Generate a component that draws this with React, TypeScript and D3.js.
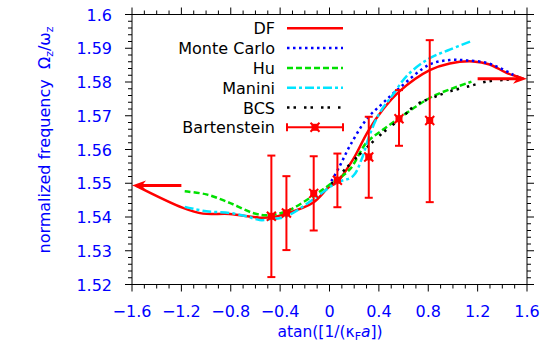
import React from "react";
import * as d3 from "d3";

// x = atan(1/(kF a)), y = normalized frequency
const dfX = [-1.57, -1.187, -1.025, -0.809, -0.566, -0.471, -0.349, -0.134, 0.002, 0.056, 0.19, 0.312, 0.434, 0.569, 0.812, 0.974, 1.163, 1.298, 1.434, 1.57];
const dfY = [1.5493, 1.5427, 1.541, 1.5409, 1.5398, 1.5399, 1.541, 1.5442, 1.5491, 1.5501, 1.557, 1.5654, 1.5719, 1.5773, 1.5835, 1.5855, 1.5861, 1.5852, 1.5827, 1.581];

const mcX = [0.015, 0.083, 0.164, 0.299, 0.434, 0.569, 0.812, 0.974, 1.109, 1.271, 1.379, 1.487, 1.568];
const mcY = [1.5506, 1.5551, 1.561, 1.5689, 1.5738, 1.5783, 1.5852, 1.5865, 1.5864, 1.5857, 1.5842, 1.5822, 1.5809];

const huX = [-1.173, -0.998, -0.809, -0.62, -0.511, -0.349, -0.134, 0.002, 0.164, 0.299, 0.434, 0.569, 0.704, 0.839, 0.974, 1.15];
const huY = [1.5476, 1.5467, 1.5442, 1.5412, 1.5405, 1.5417, 1.5462, 1.5496, 1.5541, 1.562, 1.5659, 1.5694, 1.5728, 1.5758, 1.5778, 1.5801];

const maniniX = [-1.173, -0.998, -0.809, -0.673, -0.566, -0.485, -0.349, -0.134, 0.056, 0.19, 0.259, 0.326, 0.407, 0.515, 0.623, 0.8, 0.974, 1.15];
const maniniY = [1.543, 1.5417, 1.5412, 1.5402, 1.5391, 1.5393, 1.5402, 1.5452, 1.5501, 1.5521, 1.557, 1.5644, 1.5709, 1.5763, 1.5817, 1.5868, 1.5896, 1.5921];

const bcsX = [0.015, 0.164, 0.299, 0.434, 0.569, 0.704, 0.839, 0.974, 1.136, 1.271, 1.434, 1.568];
const bcsY = [1.5498, 1.5556, 1.5605, 1.565, 1.5689, 1.5733, 1.5754, 1.5772, 1.5788, 1.5801, 1.5807, 1.5812];

const bartX = [-0.471, -0.349, -0.128, 0.064, 0.318, 0.563, 0.812];
const bartY = [1.5402, 1.5412, 1.547, 1.5509, 1.5578, 1.5691, 1.5686];
const bartLo = [1.5222, 1.5302, 1.536, 1.5429, 1.5457, 1.5611, 1.5444];
const bartHi = [1.5582, 1.5521, 1.558, 1.5588, 1.5697, 1.5776, 1.5924];

// asymptotic limits (BEC side at left, BCS side at right)
const arrowLeft = { from: -1.2, to: -1.6, y: 1.5493 };
const arrowRight = { from: 1.2, to: 1.6, y: 1.581 };

const xTicks = [-1.6, -1.2, -0.8, -0.4, 0, 0.4, 0.8, 1.2, 1.6];
const yTicks = [1.52, 1.53, 1.54, 1.55, 1.56, 1.57, 1.58, 1.59, 1.6];

const legendLabels = ["DF", "Monte Carlo", "Hu", "Manini", "BCS", "Bartenstein"];

const BLUE = "#0000ff";
const FONT = "DejaVu Sans, Liberation Sans, sans-serif";

const App = () => {
  const W = 556, H = 358;
  const left = 132, right = 527, top = 14.5, bottom = 284.5;

  const x = d3.scaleLinear().domain([-1.6, 1.6]).range([left, right]);
  const y = d3.scaleLinear().domain([1.52, 1.6]).range([bottom, top]);

  const line = d3
    .line<[number, number]>()
    .x((d) => x(d[0]))
    .y((d) => y(d[1]))
    .curve(d3.curveCatmullRom.alpha(0.5));

  const zip = (a: number[], b: number[]) => a.map((v, i) => [v, b[i]] as [number, number]);

  const series = [
    { name: "DF", pts: zip(dfX, dfY), color: "#ff0000", dash: "none", w: 2.5 },
    { name: "Monte Carlo", pts: zip(mcX, mcY), color: "#0000ff", dash: "2.5,3.5", w: 2.5 },
    { name: "Hu", pts: zip(huX, huY), color: "#00e000", dash: "6,3", w: 2.5 },
    { name: "Manini", pts: zip(maniniX, maniniY), color: "#00e5ff", dash: "9,3,3,3", w: 2.5 },
    { name: "BCS", pts: zip(bcsX, bcsY), color: "#000000", dash: "2.5,4,2.5,8", w: 2.5 },
  ];

  const xMinor = d3.range(-1.6, 1.6001, 0.1);
  const yMinor = d3.range(1.52, 1.6001, 0.002);

  const marker = (cx: number, cy: number, key: string) => (
    <g key={key}>
      <rect x={cx - 3.5} y={cy - 3.5} width={7} height={7} fill="#ff0000" />
      <path d={`M${cx - 4.5},${cy - 4.5}L${cx + 4.5},${cy + 4.5}M${cx - 4.5},${cy + 4.5}L${cx + 4.5},${cy - 4.5}`} stroke="#ff0000" strokeWidth={2} />
    </g>
  );

  const arrow = (a: { from: number; to: number; y: number }, key: string) => {
    const x0 = x(a.from), x1 = x(a.to), yy = y(a.y);
    const dir = Math.sign(x1 - x0);
    return (
      <g key={key}>
        <line x1={x0} y1={yy} x2={x1 - dir * 10} y2={yy} stroke="#ff0000" strokeWidth={3} />
        <path d={`M${x1},${yy}L${x1 - dir * 14},${yy - 5}L${x1 - dir * 10},${yy}L${x1 - dir * 14},${yy + 5}Z`} fill="#ff0000" />
      </g>
    );
  };

  const legX0 = 287, legX1 = 343, legTextX = 275, legY0 = 28.3, legDy = 19.8;

  return (
    <svg width={W} height={H} style={{ position: "absolute", left: 0, top: 0, background: "#fff" }}>
      {/* curves */}
      {series.map((s) => (
        <path key={s.name} d={line(s.pts) || ""} fill="none" stroke={s.color} strokeWidth={s.w} strokeDasharray={s.dash} />
      ))}

      {/* Bartenstein error bars */}
      {bartX.map((v, i) => (
        <g key={"eb" + i} stroke="#ff0000" strokeWidth={2}>
          <line x1={x(v)} x2={x(v)} y1={y(bartLo[i])} y2={y(bartHi[i])} />
          <line x1={x(v) - 4} x2={x(v) + 4} y1={y(bartLo[i])} y2={y(bartLo[i])} />
          <line x1={x(v) - 4} x2={x(v) + 4} y1={y(bartHi[i])} y2={y(bartHi[i])} />
        </g>
      ))}
      {bartX.map((v, i) => marker(x(v), y(bartY[i]), "m" + i))}

      {arrow(arrowLeft, "al")}
      {arrow(arrowRight, "ar")}

      {/* frame */}
      <rect x={left} y={top} width={right - left} height={bottom - top} fill="none" stroke="#000" strokeWidth={1} />
      {xMinor.map((v, i) => {
        const major = i % 4 === 0;
        const len = major ? 7 : 4;
        return (
          <g key={"xt" + i} stroke="#000">
            <line x1={x(v)} x2={x(v)} y1={bottom} y2={bottom + len} />
            <line x1={x(v)} x2={x(v)} y1={top} y2={top - len} />
          </g>
        );
      })}
      {yMinor.map((v, i) => {
        const major = i % 5 === 0;
        const len = major ? 7 : 4;
        return (
          <g key={"yt" + i} stroke="#000">
            <line x1={left} x2={left - len} y1={y(v)} y2={y(v)} />
            <line x1={right} x2={right + len} y1={y(v)} y2={y(v)} />
          </g>
        );
      })}

      {/* tick labels */}
      {xTicks.map((v) => (
        <text key={"xl" + v} x={x(v)} y={317} textAnchor="middle" fill={BLUE} fontFamily={FONT} fontSize={16}>
          {d3.format("")(v)}
        </text>
      ))}
      {yTicks.map((v) => (
        <text key={"yl" + v} x={112} y={y(v) + 6} textAnchor="end" fill={BLUE} fontFamily={FONT} fontSize={16}>
          {d3.format("")(v)}
        </text>
      ))}

      {/* axis titles */}
      <text x={330} y={337} textAnchor="middle" fill={BLUE} fontFamily={FONT} fontSize={15.5}>
        atan([1/(κ<tspan baselineShift="-25%" fontSize={11}>F</tspan>
        <tspan fontStyle="italic">a</tspan>])
      </text>
      <text transform="translate(50,140) rotate(-90)" textAnchor="middle" fill={BLUE} fontFamily={FONT} fontSize={16}>
        normalized frequency{"\u00a0\u00a0"}Ω<tspan baselineShift="-25%" fontSize={11}>z</tspan>/ω
        <tspan baselineShift="-25%" fontSize={11}>z</tspan>
      </text>

      {/* legend */}
      {legendLabels.map((lab, i) => {
        const ly = legY0 + i * legDy;
        return (
          <g key={"lg" + i}>
            <text x={legTextX} y={ly + 6} textAnchor="end" fill="#000" fontFamily={FONT} fontSize={16}>
              {lab}
            </text>
            {i < series.length ? (
              <line x1={legX0} x2={legX1} y1={ly} y2={ly} stroke={series[i].color} strokeWidth={series[i].w} strokeDasharray={series[i].dash} />
            ) : (
              <g>
                <g stroke="#ff0000" strokeWidth={2}>
                  <line x1={legX0} x2={legX1} y1={ly} y2={ly} />
                  <line x1={legX0} x2={legX0} y1={ly - 4} y2={ly + 4} />
                  <line x1={legX1} x2={legX1} y1={ly - 4} y2={ly + 4} />
                </g>
                {marker((legX0 + legX1) / 2, ly, "lm")}
              </g>
            )}
          </g>
        );
      })}
    </svg>
  );
};

export default App;
